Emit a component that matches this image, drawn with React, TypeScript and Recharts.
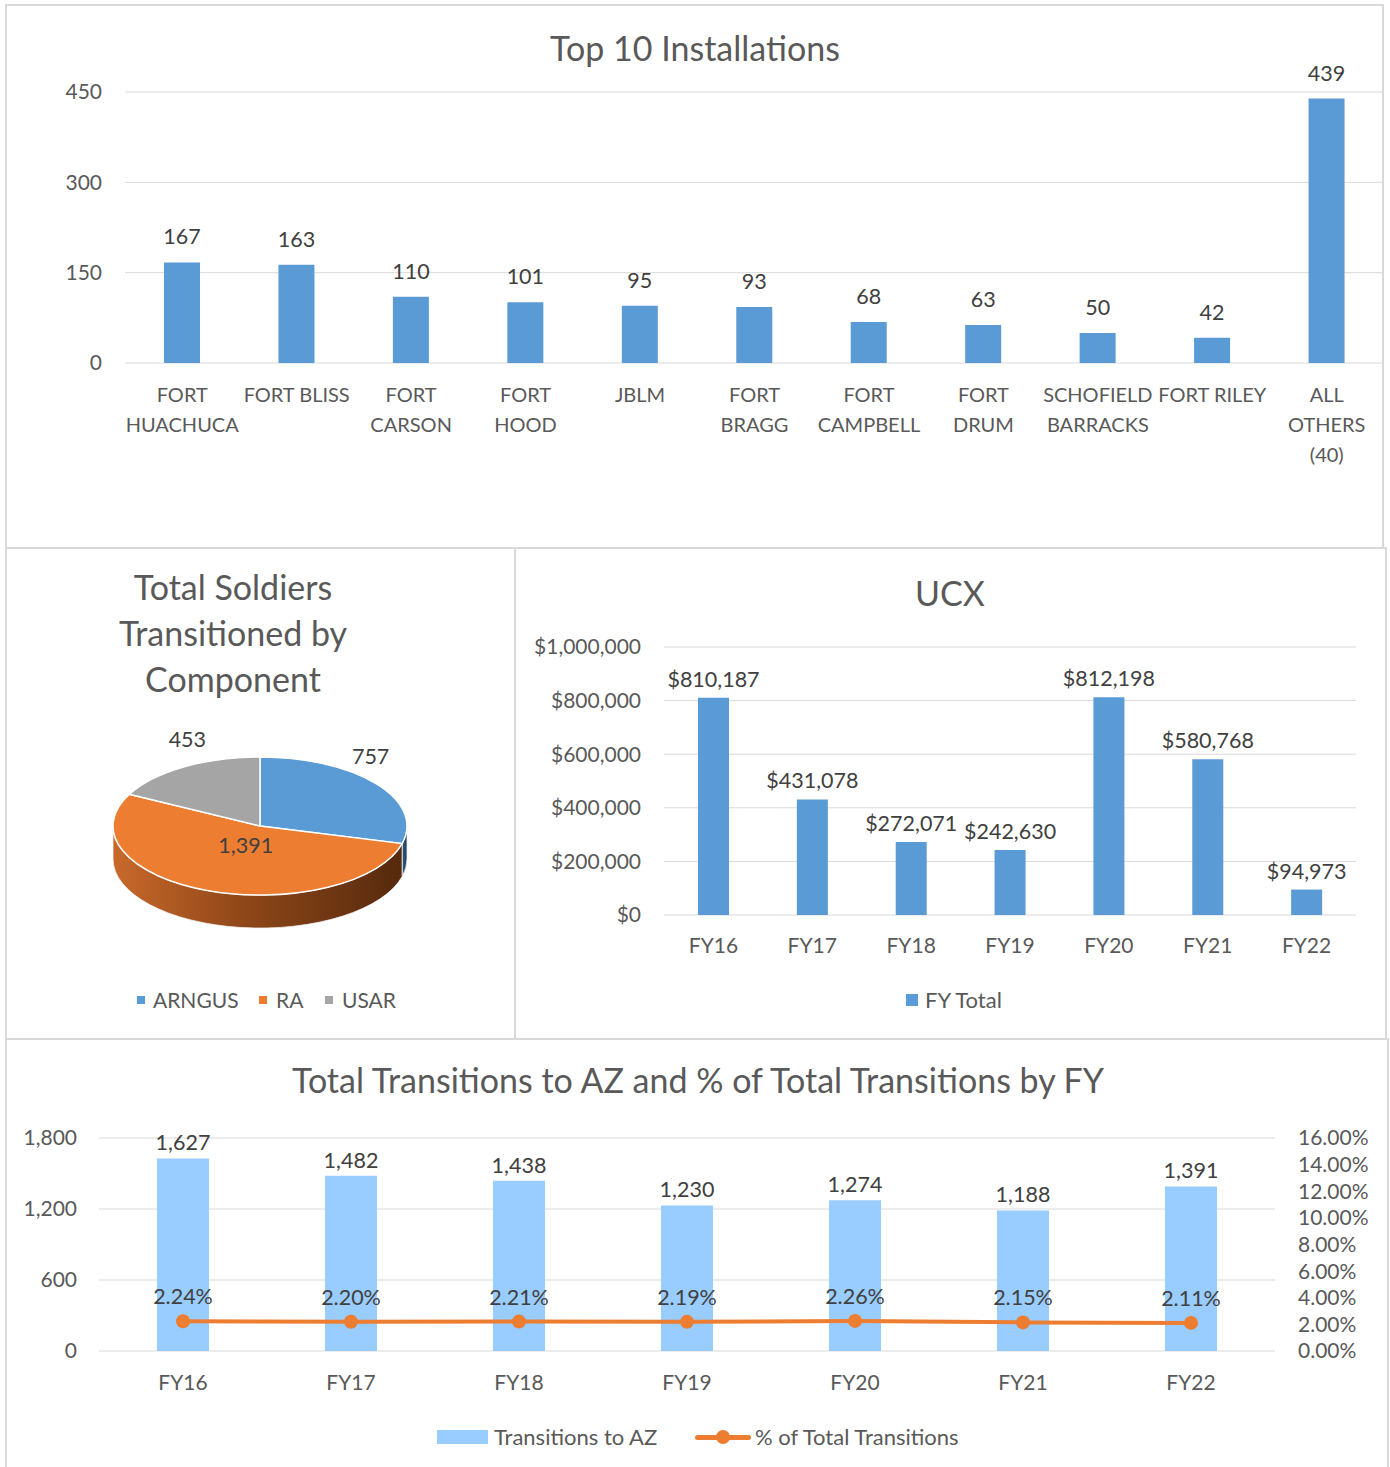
import React from 'react';
import {
  Bar,
  BarChart,
  CartesianGrid,
  Cell,
  ComposedChart,
  LabelList,
  Line,
  Pie,
  PieChart,
  XAxis,
  YAxis,
} from 'recharts';

const FONT = 'Lato, "Open Sans", sans-serif';
const TEXT = '#595959';
const LABEL = '#404040';
const GRID = '#d9d9d9';
const BLUE = '#5b9bd5';
const ORANGE = '#ed7d31';
const GRAY = '#a5a5a5';
const LIGHT_BLUE = '#99ccff';

// top 10 installations
const INSTALLATIONS = [
  'FORT\nHUACHUCA',
  'FORT BLISS',
  'FORT\nCARSON',
  'FORT\nHOOD',
  'JBLM',
  'FORT\nBRAGG',
  'FORT\nCAMPBELL',
  'FORT\nDRUM',
  'SCHOFIELD\nBARRACKS',
  'FORT RILEY',
  'ALL\nOTHERS\n(40)',
];
const INSTALL_COUNTS = [167, 163, 110, 101, 95, 93, 68, 63, 50, 42, 439];
const INSTALL_TICKS = [0, 150, 300, 450];

// soldiers by component
const COMPONENTS = ['ARNGUS', 'RA', 'USAR'];
const COMPONENT_COUNTS = [757, 1391, 453];
const COMPONENT_COLORS = [BLUE, ORANGE, GRAY];

// by fiscal year
const FISCAL_YEARS = ['FY16', 'FY17', 'FY18', 'FY19', 'FY20', 'FY21', 'FY22'];
const UCX_TOTALS = [810187, 431078, 272071, 242630, 812198, 580768, 94973];
const UCX_TICKS = [0, 200000, 400000, 600000, 800000, 1000000];
const AZ_TRANSITIONS = [1627, 1482, 1438, 1230, 1274, 1188, 1391];
const AZ_SHARE = [2.24, 2.2, 2.21, 2.19, 2.26, 2.15, 2.11];
const AZ_TICKS = [0, 600, 1200, 1800];
const SHARE_TICKS = [0, 2, 4, 6, 8, 10, 12, 14, 16];

const installData = INSTALLATIONS.map((name, i) => ({ name, count: INSTALL_COUNTS[i] }));
const pieData = COMPONENTS.map((name, i) => ({ name, value: COMPONENT_COUNTS[i] }));
const ucxData = FISCAL_YEARS.map((fy, i) => ({ fy, total: UCX_TOTALS[i] }));
const azData = FISCAL_YEARS.map((fy, i) => ({ fy, az: AZ_TRANSITIONS[i], share: AZ_SHARE[i] }));

const tickStyle = { fill: TEXT, fontSize: 21, fontFamily: FONT };
const labelStyle = { fill: LABEL, fontSize: 21.5, fontFamily: FONT };
const money = (v: number) => '$' + Number(v).toLocaleString('en-US');
const thousands = (v: number) => Number(v).toLocaleString('en-US');
const pct = (v: number) => Number(v).toFixed(2) + '%';

const Panel = ({ l, t, w, h }: any) => (
  <div
    style={{
      position: 'absolute',
      left: l,
      top: t,
      width: w,
      height: h,
      boxSizing: 'border-box',
      border: `2px solid ${GRID}`,
      pointerEvents: 'none',
    }}
  />
);

// cy = centre of the first line
const Title = ({ cx, cy, lines, lh = 40 }: any) => (
  <div
    style={{
      position: 'absolute',
      left: cx - 500,
      top: cy - lh / 2,
      width: 1000,
      textAlign: 'center',
      fontSize: 34,
      lineHeight: `${lh}px`,
      color: TEXT,
      fontFamily: FONT,
    }}
  >
    {lines.map((s: string) => (
      <div key={s}>{s}</div>
    ))}
  </div>
);

const MultiLineTick = ({ x, y, payload }: any) => {
  const lines = String(payload.value).split('\n');
  return (
    <text x={x} y={y} textAnchor="middle" {...tickStyle} fontSize={20}>
      {lines.map((s, i) => (
        <tspan key={i} x={x} dy={i === 0 ? 31 : 30}>
          {s}
        </tspan>
      ))}
    </text>
  );
};

// fake 3D pie: elliptical top surface plus a front wall
const RAD = Math.PI / 180;
const TILT = 0.47;
const DEPTH = 33;
const WALL_FILL: Record<string, string> = {
  [BLUE]: 'url(#wall-blue)',
  [ORANGE]: 'url(#wall-orange)',
  [GRAY]: 'url(#wall-gray)',
};

const pt = (cx: number, cy: number, rx: number, ry: number, a: number) =>
  `${cx + rx * Math.cos(-a * RAD)},${cy + ry * Math.sin(-a * RAD)}`;

const EllipseSlice = (props: any) => {
  const { cx, cy, outerRadius, startAngle, endAngle, fill } = props;
  const rx = outerRadius;
  const ry = outerRadius * TILT;
  const span = Math.abs(startAngle - endAngle);
  const sweep = startAngle > endAngle ? 1 : 0;
  const top = `M${cx},${cy} L${pt(cx, cy, rx, ry, startAngle)} A${rx},${ry} 0 ${span > 180 ? 1 : 0} ${sweep} ${pt(cx, cy, rx, ry, endAngle)} Z`;

  const lo = Math.min(startAngle, endAngle);
  const hi = Math.max(startAngle, endAngle);
  const walls: string[] = [];
  for (const k of [-1, 0, 1]) {
    const a = Math.max(lo, -180 - 360 * k);
    const b = Math.min(hi, -360 * k);
    if (b - a > 0.01) {
      walls.push(
        `M${pt(cx, cy, rx, ry, b)} A${rx},${ry} 0 0 1 ${pt(cx, cy, rx, ry, a)} ` +
          `L${pt(cx, cy + DEPTH, rx, ry, a)} A${rx},${ry} 0 0 0 ${pt(cx, cy + DEPTH, rx, ry, b)} Z`
      );
    }
  }
  return (
    <g>
      {walls.map((d, i) => (
        <path key={i} d={d} fill={WALL_FILL[fill] || fill} stroke="#f2f2f2" strokeWidth={0.8} />
      ))}
      <path d={top} fill={fill} stroke="#ffffff" strokeWidth={1.5} />
    </g>
  );
};

const PieLabel = ({ cx, cy, midAngle, outerRadius, percent, value }: any) => {
  const rx = outerRadius;
  const ry = outerRadius * TILT;
  const c = Math.cos(-midAngle * RAD);
  const s = Math.sin(-midAngle * RAD);
  let x: number;
  let y: number;
  if (percent > 0.5) {
    x = cx + rx * 0.27 * c;
    y = cy + ry * 0.3 * s;
  } else {
    x = cx + rx * 0.95 * c;
    y = cy + ry * (s - 0.4);
  }
  return (
    <text x={x} y={y} textAnchor="middle" dominantBaseline="central" {...labelStyle}>
      {thousands(value)}
    </text>
  );
};

const Swatch = ({ l, t, w, h, color }: any) => (
  <div style={{ position: 'absolute', left: l, top: t, width: w, height: h, background: color }} />
);

const LegendText = ({ l, cy, text, size = 22 }: any) => (
  <div
    style={{
      position: 'absolute',
      left: l,
      top: cy - 14,
      lineHeight: '28px',
      fontSize: size,
      color: TEXT,
      fontFamily: FONT,
      whiteSpace: 'nowrap',
    }}
  >
    {text}
  </div>
);

export default function App() {
  return (
    <div
      style={{
        position: 'absolute',
        left: 0,
        top: 0,
        width: 1390,
        height: 1467,
        overflow: 'hidden',
        background: '#ffffff',
        fontFamily: FONT,
      }}
    >
      {/* Top 10 installations */}
      <div style={{ position: 'absolute', left: 0, top: 0 }}>
        <BarChart
          width={1384}
          height={548}
          data={installData}
          margin={{ top: 92, right: 0, bottom: 0, left: 0 }}
        >
          <CartesianGrid stroke={GRID} vertical={false} />
          <XAxis
            dataKey="name"
            axisLine={false}
            tickLine={false}
            height={185}
            interval={0}
            tick={<MultiLineTick />}
          />
          <YAxis
            width={125}
            domain={[0, 450]}
            ticks={INSTALL_TICKS}
            interval={0}
            axisLine={false}
            tickLine={false}
            tickMargin={17}
            tick={tickStyle}
          />
          <Bar dataKey="count" fill={BLUE} barSize={36} isAnimationActive={false}>
            <LabelList dataKey="count" position="top" offset={18} style={labelStyle} />
          </Bar>
        </BarChart>
      </div>
      <Title cx={695} cy={48} lines={['Top 10 Installations']} />

      {/* component pie */}
      <div style={{ position: 'absolute', left: 6, top: 548 }}>
        <PieChart width={508} height={490}>
          <defs>
            <linearGradient id="wall-orange" x1="0" y1="0" x2="1" y2="0">
              <stop offset="0%" stopColor="#c8692b" />
              <stop offset="45%" stopColor="#8f4719" />
              <stop offset="100%" stopColor="#552a0e" />
            </linearGradient>
            <linearGradient id="wall-blue" x1="0" y1="0" x2="1" y2="0">
              <stop offset="0%" stopColor="#2f5f8c" />
              <stop offset="100%" stopColor="#1d3b58" />
            </linearGradient>
            <linearGradient id="wall-gray" x1="0" y1="0" x2="1" y2="0">
              <stop offset="0%" stopColor="#7a7a7a" />
              <stop offset="100%" stopColor="#4a4a4a" />
            </linearGradient>
          </defs>
          <Pie
            data={pieData}
            dataKey="value"
            nameKey="name"
            cx={249}
            cy={273}
            outerRadius={147}
            startAngle={90}
            endAngle={-270}
            stroke="none"
            label={PieLabel}
            labelLine={false}
            inactiveShape={EllipseSlice}
            activeShape={EllipseSlice}
            shape={EllipseSlice}
            isAnimationActive={false}
          >
            {pieData.map((d, i) => (
              <Cell key={d.name} fill={COMPONENT_COLORS[i]} />
            ))}
          </Pie>
        </PieChart>
      </div>
      <Title cx={233} cy={587} lh={46} lines={['Total Soldiers', 'Transitioned by', 'Component']} />
      <Swatch l={137} t={996} w={8} h={8} color={BLUE} />
      <LegendText l={153} cy={1000} size={21} text={COMPONENTS[0]} />
      <Swatch l={259} t={996} w={8} h={8} color={ORANGE} />
      <LegendText l={276} cy={1000} size={21} text={COMPONENTS[1]} />
      <Swatch l={325} t={996} w={8} h={8} color={GRAY} />
      <LegendText l={342} cy={1000} size={21} text={COMPONENTS[2]} />

      {/* UCX */}
      <div style={{ position: 'absolute', left: 514, top: 548 }}>
        <BarChart
          width={872}
          height={490}
          data={ucxData}
          margin={{ top: 99, right: 30, bottom: 0, left: 0 }}
        >
          <CartesianGrid stroke={GRID} vertical={false} />
          <XAxis
            dataKey="fy"
            axisLine={false}
            tickLine={false}
            height={123}
            tickMargin={17}
            tick={tickStyle}
          />
          <YAxis
            width={150}
            domain={[0, 1000000]}
            ticks={UCX_TICKS}
            interval={0}
            axisLine={false}
            tickLine={false}
            tickMargin={17}
            tick={tickStyle}
            tickFormatter={money}
          />
          <Bar dataKey="total" fill={BLUE} barSize={31} isAnimationActive={false}>
            <LabelList dataKey="total" position="top" offset={11} style={labelStyle} formatter={money} />
          </Bar>
        </BarChart>
      </div>
      <Title cx={950} cy={593} lines={['UCX']} />
      <Swatch l={906} t={994} w={12} h={12} color={BLUE} />
      <LegendText l={925} cy={1000} text="FY Total" />

      {/* transitions to AZ */}
      <div style={{ position: 'absolute', left: 6, top: 1039 }}>
        <ComposedChart
          width={1382}
          height={428}
          data={azData}
          margin={{ top: 99, right: 13, bottom: 0, left: 0 }}
        >
          <CartesianGrid stroke={GRID} vertical={false} yAxisId="left" />
          <XAxis
            dataKey="fy"
            axisLine={false}
            tickLine={false}
            height={116}
            tickMargin={18}
            tick={tickStyle}
          />
          <YAxis
            yAxisId="left"
            width={93}
            domain={[0, 1800]}
            ticks={AZ_TICKS}
            interval={0}
            axisLine={false}
            tickLine={false}
            tickMargin={16}
            tick={tickStyle}
            tickFormatter={thousands}
          />
          <YAxis
            yAxisId="right"
            orientation="right"
            width={100}
            domain={[0, 16]}
            ticks={SHARE_TICKS}
            interval={0}
            axisLine={false}
            tickLine={false}
            tickMargin={17}
            tick={tickStyle}
            tickFormatter={pct}
          />
          <Bar yAxisId="left" dataKey="az" fill={LIGHT_BLUE} barSize={52} isAnimationActive={false}>
            <LabelList dataKey="az" position="top" offset={8} style={labelStyle} formatter={thousands} />
          </Bar>
          <Line
            yAxisId="right"
            dataKey="share"
            stroke={ORANGE}
            strokeWidth={4}
            dot={{ r: 7, fill: ORANGE, stroke: ORANGE, strokeWidth: 0 }}
            isAnimationActive={false}
          >
            <LabelList dataKey="share" position="top" offset={17} style={labelStyle} formatter={pct} />
          </Line>
        </ComposedChart>
      </div>
      <Title cx={698} cy={1080} lines={['Total Transitions to AZ and % of Total Transitions by FY']} />
      <Swatch l={437} t={1430} w={51} h={14} color={LIGHT_BLUE} />
      <LegendText l={494} cy={1437} text="Transitions to AZ" />
      <div style={{ position: 'absolute', left: 695, top: 1435, width: 56, height: 5, borderRadius: 3, background: ORANGE }} />
      <div style={{ position: 'absolute', left: 716, top: 1430, width: 14, height: 14, borderRadius: 7, background: ORANGE }} />
      <LegendText l={755} cy={1437} text="% of Total Transitions" />

      <Panel l={5} t={4} w={1379} h={545} />
      <Panel l={5} t={547} w={511} h={493} />
      <Panel l={514} t={547} w={873} h={493} />
      <Panel l={5} t={1038} w={1384} h={440} />
    </div>
  );
}
